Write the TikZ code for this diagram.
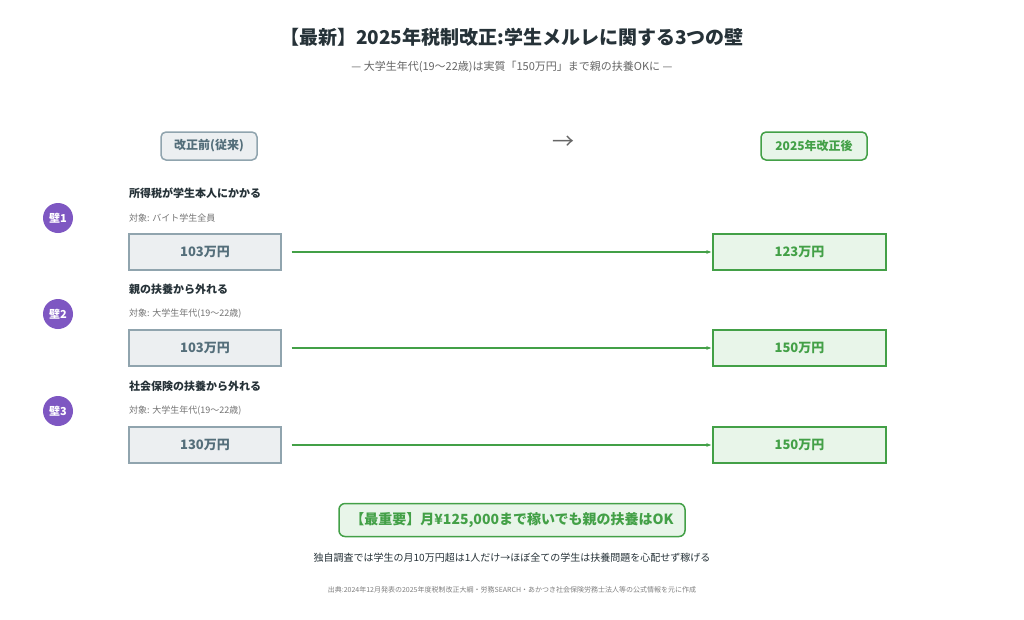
\documentclass[tikz,border=0pt]{standalone}
\usepackage{fontspec}
\setmainfont{Noto Sans CJK JP}
\usetikzlibrary{positioning,arrows.meta}
\definecolor{oldfill}{HTML}{ECEFF1}
\definecolor{oldline}{HTML}{90A4AE}
\definecolor{oldtext}{HTML}{546E7A}
\definecolor{newfill}{HTML}{E8F5E9}
\definecolor{newline}{HTML}{43A047}
\definecolor{newtext}{HTML}{43A047}
\definecolor{wall}{HTML}{7E57C2}
\definecolor{ink}{HTML}{263238}
\tikzset{
  oldbox/.style={draw=oldline, fill=oldfill, line width=1.2pt, text=oldtext, font=\bfseries\fontsize{13}{13}\selectfont, minimum width=152pt, minimum height=36pt},
  newbox/.style={draw=newline, fill=newfill, line width=1.5pt, text=newtext, font=\bfseries\fontsize{13}{13}\selectfont, minimum width=173pt, minimum height=36pt},
  badge/.style={circle, fill=wall, text=white, font=\bfseries\fontsize{11}{11}\selectfont, minimum size=30pt, inner sep=0pt},
  rowtitle/.style={anchor=west, inner sep=0pt, text=ink, font=\bfseries\fontsize{11}{11}\selectfont},
  rowsub/.style={anchor=west, inner sep=0pt, text=gray!90!black, font=\fontsize{9}{9}\selectfont},
  flow/.style={-{Stealth[length=5pt]}, newline, line width=1.5pt}
}
\begin{document}
\begin{tikzpicture}[x=1pt,y=-1pt]
\useasboundingbox[fill=white] (0,0) rectangle (1024,619);
% title
\node[font=\bfseries\fontsize{19}{19}\selectfont, text=ink] (title) at (512,37) {【最新】2025年税制改正:学生メルレに関する3つの壁};
\node[font=\fontsize{11}{11}\selectfont, text=gray!80!black] (sub) at (512,67) {— 大学生年代(19〜22歳)は実質「150万円」まで親の扶養OKに —};
% headers
\node[draw=oldline, fill=oldfill, line width=1.5pt, rounded corners=5pt, text=oldtext, font=\bfseries\fontsize{12}{12}\selectfont, minimum width=96pt, minimum height=28pt] (hold) at (209,146) {改正前(従来)};
\node[text=gray!80!black, font=\fontsize{22}{22}\selectfont] (harrow) at (563,143) {→};
\node[draw=newline, fill=newfill, line width=1.5pt, rounded corners=5pt, text=newtext, font=\bfseries\fontsize{12}{12}\selectfont, minimum width=106pt, minimum height=28pt] (hnew) at (814,146) {2025年改正後};
% walls
\foreach \n/\y/\t/\s/\a/\b in {
  1/252/所得税が学生本人にかかる/対象: バイト学生全員/103/123,
  2/348/親の扶養から外れる/対象: 大学生年代(19〜22歳)/103/150,
  3/445/社会保険の扶養から外れる/対象: 大学生年代(19〜22歳)/130/150} {
  \node[badge] (w\n) at (58,\y-34) {壁\n};
  \node[rowtitle] (t\n) at (129,\y-59) {\t};
  \node[rowsub] (s\n) at (129,\y-34) {\s};
  \node[oldbox] (o\n) at (205,\y) {\a 万円};
  \node[newbox] (r\n) at (799.5,\y) {\b 万円};
  \draw[flow] ([xshift=10pt]o\n.east) -- ([xshift=-1pt]r\n.west);
}
% key point
\node[draw=newline, fill=newfill, line width=1.5pt, rounded corners=6pt, text=newtext, font=\bfseries\fontsize{14}{14}\selectfont, minimum width=346pt, minimum height=33pt] (key) at (512,520) {【最重要】月¥125,000まで稼いでも親の扶養はOK};
\node[text=ink, font=\fontsize{10}{10}\selectfont] (note) at (512,558) {独自調査では学生の月10万円超は1人だけ→ほぼ全ての学生は扶養問題を心配せず稼げる};
\node[text=gray, font=\fontsize{7}{7}\selectfont] (src) at (512,590) {出典:2024年12月発表の2025年度税制改正大綱・労務SEARCH・あかつき社会保険労務士法人等の公式情報を元に作成};
\end{tikzpicture}
\end{document}
